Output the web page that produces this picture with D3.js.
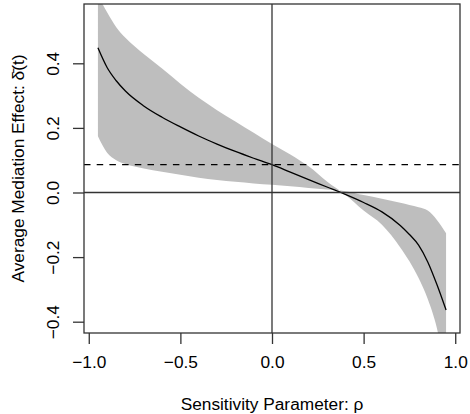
<!DOCTYPE html>
<html>
  <head>
    <meta charset="utf-8" />
    <style>
      body { margin: 0; background: #fff; }
      text { font-family: "Liberation Sans", Arial, sans-serif; fill: #000; }
    </style>
  </head>
  <body>

<svg id="graph"></svg>

<script src="https://d3js.org/d3.v7.min.js"></script>
<script>
// taille de la fenêtre
const WIDTH = 470
const HEIGHT = 414
// région du graphique (comme la "plot region" de R)
const LEFT = 84
const RIGHT = 460
const TOP = 4
const BOTTOM = 333
const FONT = 17.3

// les données
const rho = [-0.95, -0.9, -0.85, -0.8, -0.7, -0.6, -0.5, -0.4, -0.3, -0.2, -0.1, 0,
  0.1, 0.2, 0.3, 0.4, 0.5, 0.6, 0.7, 0.75, 0.8, 0.85, 0.9, 0.95]
const acme = [0.448, 0.387, 0.346, 0.314, 0.268, 0.233, 0.203, 0.175, 0.150, 0.127, 0.106, 0.086,
  0.063, 0.040, 0.017, -0.006, -0.031, -0.060, -0.102, -0.130, -0.163, -0.215, -0.285, -0.364]
const ciUpper = [0.61, 0.558, 0.512, 0.479, 0.429, 0.384, 0.337, 0.293, 0.255, 0.220, 0.185, 0.150,
  0.118, 0.081, 0.034, -0.007, -0.056, -0.100, -0.170, -0.213, -0.265, -0.33, -0.42, -0.56]
const ciLower = [0.174, 0.123, 0.100, 0.088, 0.074, 0.064, 0.055, 0.046, 0.039, 0.033, 0.028, 0.024,
  0.019, 0.014, 0.009, 0.004, -0.008, -0.019, -0.032, -0.039, -0.046, -0.056, -0.085, -0.126]
// effet estimé à rho = 0 (ligne pointillée)
const acmeAtZero = 0.086
// les graduations
const xTicks = [-1.0, -0.5, 0.0, 0.5, 1.0]
const yTicks = [-0.4, -0.2, 0.0, 0.2, 0.4]

const svg = d3.select('#graph')
  .attr('width', WIDTH)
  .attr('height', HEIGHT)

const xScale = d3.scaleLinear()
  .domain([-1.026, 1.026])
  .range([LEFT, RIGHT])

const yScale = d3.scaleLinear()
  .domain([-0.435, 0.5836])
  .range([BOTTOM, TOP])

// format des nombres avec le vrai signe moins
const fmt = d => d3.format('.1f')(d).replace('-', '\u2212')

// découpe sur la région du graphique
svg.append('clipPath')
  .attr('id', 'clip')
  .append('rect')
  .attr('x', LEFT)
  .attr('y', TOP)
  .attr('width', RIGHT - LEFT)
  .attr('height', BOTTOM - TOP)

const plot = svg.append('g').attr('clip-path', 'url(#clip)')

const points = rho.map((r, i) => ({ r, m: acme[i], lo: ciLower[i], hi: ciUpper[i] }))

// bande de confiance
plot.append('path')
  .datum(points)
  .attr('fill', '#bebebe')
  .attr('d', d3.area()
    .x(d => xScale(d.r))
    .y0(d => yScale(d.lo))
    .y1(d => yScale(d.hi))
    .curve(d3.curveMonotoneX))

// courbe de l'effet moyen
plot.append('path')
  .datum(points)
  .attr('fill', 'none')
  .attr('stroke', '#000')
  .attr('stroke-width', 1.3)
  .attr('d', d3.line()
    .x(d => xScale(d.r))
    .y(d => yScale(d.m))
    .curve(d3.curveMonotoneX))

// lignes de référence
plot.append('line')
  .attr('x1', LEFT).attr('x2', RIGHT)
  .attr('y1', yScale(0)).attr('y2', yScale(0))
  .attr('stroke', '#333').attr('stroke-width', 1.3)

plot.append('line')
  .attr('x1', xScale(0)).attr('x2', xScale(0))
  .attr('y1', TOP).attr('y2', BOTTOM)
  .attr('stroke', '#333').attr('stroke-width', 1.3)

plot.append('line')
  .attr('x1', LEFT).attr('x2', RIGHT)
  .attr('y1', yScale(acmeAtZero)).attr('y2', yScale(acmeAtZero))
  .attr('stroke', '#000').attr('stroke-width', 1.3)
  .attr('stroke-dasharray', '6.5,6.2')

// axes
const axisX = d3.axisBottom(xScale)
  .tickValues(xTicks)
  .tickFormat(fmt)
  .tickSize(11)
  .tickSizeOuter(0)

const gx = svg.append('g')
  .attr('transform', `translate(0, ${BOTTOM})`)
  .call(axisX)
gx.select('.domain').remove()
gx.selectAll('line').attr('stroke', '#333').attr('stroke-width', 1.3)
gx.selectAll('text')
  .attr('y', 35)
  .attr('dy', 0)
  .style('font-size', FONT + 'px')
  .attr('fill', '#000')

const axisY = d3.axisLeft(yScale)
  .tickValues(yTicks)
  .tickFormat(fmt)
  .tickSize(11)
  .tickSizeOuter(0)

const gy = svg.append('g')
  .attr('transform', `translate(${LEFT}, 0)`)
  .call(axisY)
gy.select('.domain').remove()
gy.selectAll('line').attr('stroke', '#333').attr('stroke-width', 1.3)
gy.selectAll('text')
  .attr('transform', 'rotate(-90)')
  .attr('x', 0)
  .attr('y', -25.5)
  .attr('dy', 0)
  .attr('text-anchor', 'middle')
  .style('font-size', FONT + 'px')
  .attr('fill', '#000')

// cadre
svg.append('rect')
  .attr('x', LEFT).attr('y', TOP)
  .attr('width', RIGHT - LEFT).attr('height', BOTTOM - TOP)
  .attr('fill', 'none')
  .attr('stroke', '#333')
  .attr('stroke-width', 1.3)

// titres des axes
svg.append('text')
  .attr('x', (LEFT + RIGHT) / 2)
  .attr('y', 410)
  .attr('text-anchor', 'middle')
  .style('font-size', FONT + 'px')
  .text('Sensitivity Parameter: \u03c1')

svg.append('text')
  .attr('transform', `translate(24, ${(TOP + BOTTOM) / 2}) rotate(-90)`)
  .attr('text-anchor', 'middle')
  .style('font-size', FONT + 'px')
  .text('Average Mediation Effect: \u03b4\u0304(t)')

</script>
  </body>
</html>
